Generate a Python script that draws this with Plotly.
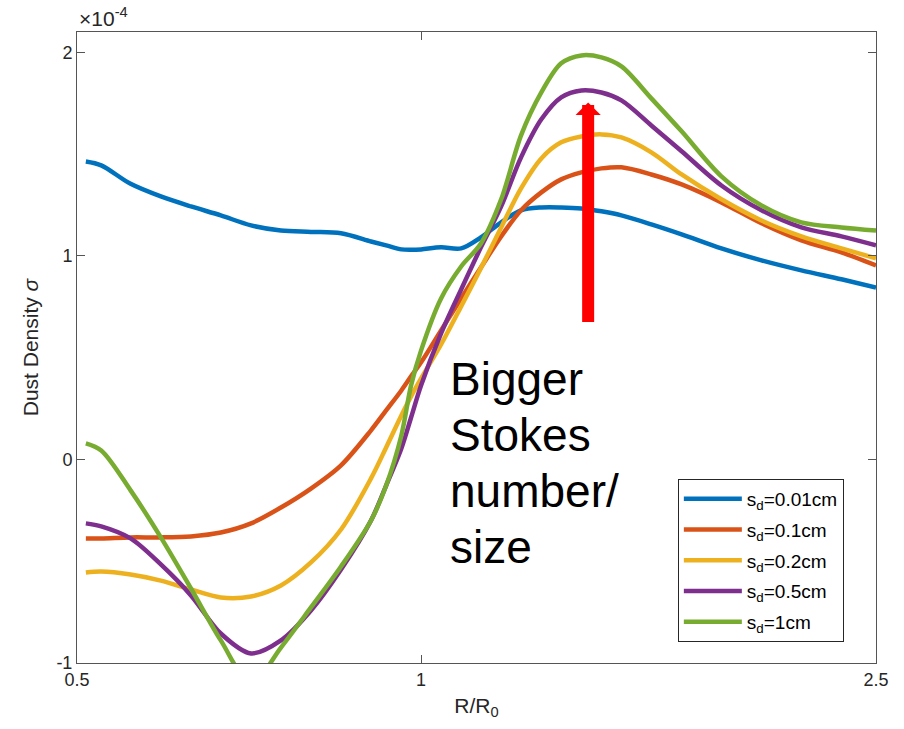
import numpy as np
import plotly.graph_objects as go

# Radial positions R/R0 (shared by every curve)
r_over_r0 = [0.509, 0.525, 0.557, 0.592, 0.629, 0.668, 0.710, 0.754, 0.801, 0.851,
             0.904, 0.932, 0.961, 0.980, 1.000, 1.041, 1.084, 1.128, 1.175, 1.223,
             1.274, 1.326, 1.381, 1.438, 1.497, 1.590, 1.690, 1.831, 1.985, 2.151,
             2.332, 2.500]

# Dust surface density, in units of 1e-4
sigma_001cm = [1.464, 1.445, 1.354, 1.292, 1.243, 1.199, 1.150, 1.125, 1.118, 1.111,
               1.071, 1.052, 1.032, 1.030, 1.032, 1.042, 1.037, 1.091, 1.165, 1.224,
               1.238, 1.238, 1.233, 1.219, 1.199, 1.155, 1.106, 1.037, 0.978, 0.929,
               0.885, 0.845]
sigma_01cm = [-0.388, -0.388, -0.383, -0.383, -0.378, -0.359, -0.314, -0.236, -0.143, -0.029,
              0.143, 0.241, 0.339, 0.408, 0.477, 0.634, 0.791, 0.943, 1.096, 1.224,
              1.312, 1.376, 1.410, 1.430, 1.435, 1.400, 1.351, 1.263, 1.160, 1.076,
              1.017, 0.953]
sigma_02cm = [-0.555, -0.550, -0.565, -0.595, -0.639, -0.678, -0.673, -0.619, -0.506, -0.344,
              -0.093, 0.059, 0.216, 0.310, 0.398, 0.565, 0.752, 0.940, 1.140, 1.332,
              1.479, 1.558, 1.587, 1.597, 1.582, 1.509, 1.400, 1.278, 1.174, 1.096,
              1.037, 0.988]
sigma_05cm = [-0.314, -0.329, -0.388, -0.516, -0.668, -0.855, -0.953, -0.889, -0.742, -0.541,
              -0.300, -0.128, 0.054, 0.206, 0.364, 0.619, 0.835, 1.042, 1.243, 1.484,
              1.671, 1.779, 1.813, 1.803, 1.764, 1.641, 1.514, 1.346, 1.224, 1.140,
              1.096, 1.052]
sigma_1cm = [0.079, 0.044, -0.152, -0.383, -0.634, -0.889, -1.100, -0.924, -0.727, -0.526,
             -0.300, -0.128, 0.118, 0.364, 0.536, 0.791, 0.948, 1.061, 1.278, 1.592,
             1.803, 1.946, 1.985, 1.975, 1.931, 1.774, 1.612, 1.391, 1.248, 1.165,
             1.140, 1.125]

series_names = ["s<sub>d</sub>=0.01cm", "s<sub>d</sub>=0.1cm", "s<sub>d</sub>=0.2cm",
                "s<sub>d</sub>=0.5cm", "s<sub>d</sub>=1cm"]
series_values = [sigma_001cm, sigma_01cm, sigma_02cm, sigma_05cm, sigma_1cm]
series_colors = ["#0072BD", "#D95319", "#EDB120", "#7E2F8E", "#77AC30"]

x_ticks = [0.5, 1, 2.5]
x_tick_labels = ["0.5", "1", "2.5"]
y_ticks = [-1, 0, 1, 2]
y_tick_labels = ["-1", "0", "1", "2"]

# Growth arrow (R/R0, sigma tail -> head)
arrow_r = 1.40
arrow_tail = 0.668
arrow_head = 1.754

axis_color = "#555555"
text_color = "#262626"
font_family = "Liberation Sans, Arial, Helvetica, sans-serif"

fig = go.Figure()
for name, vals, col in zip(series_names, series_values, series_colors):
    fig.add_trace(go.Scatter(
        x=r_over_r0, y=vals, mode="lines", name=name,
        line=dict(color=col, width=4.5, shape="spline", smoothing=0.9),
        legendgroup=name,
    ))

fig.update_layout(
    width=904, height=729,
    margin=dict(l=77, r=28, t=32, b=66, pad=0),
    plot_bgcolor="white", paper_bgcolor="white",
    font=dict(family=font_family, size=18, color=text_color),
    showlegend=True,
    legend=dict(
        x=0.752, y=0.2916, xanchor="left", yanchor="top",
        bgcolor="white", bordercolor=text_color, borderwidth=1,
        font=dict(size=19, color="black"),
        itemwidth=58, tracegroupgap=3,
    ),
)

fig.update_xaxes(
    type="log", range=[np.log10(0.5), np.log10(2.5)],
    tickvals=x_ticks, ticktext=x_tick_labels,
    ticks="inside", ticklen=8, tickwidth=1, tickcolor=axis_color,
    showline=True, linecolor=axis_color, linewidth=1, mirror="ticks",
    showgrid=False, zeroline=False,
    title=dict(text="R/R<sub>0</sub>", font=dict(size=21), standoff=9),
)
fig.update_yaxes(
    range=[-1, 2.1],
    tickvals=y_ticks, ticktext=y_tick_labels,
    ticks="inside", ticklen=8, tickwidth=1, tickcolor=axis_color,
    showline=True, linecolor=axis_color, linewidth=1, mirror="ticks",
    showgrid=False, zeroline=False,
    title=dict(text="Dust Density <i>σ</i>", font=dict(size=21), standoff=12),
)

# Exponent label for the y axis
fig.add_annotation(
    text="×10<sup>-4</sup>", xref="paper", yref="paper", x=0.0, y=1.0,
    xanchor="left", yanchor="bottom", showarrow=False,
    font=dict(size=21, color=text_color),
)

# Arrow marking increasing grain size
fig.add_annotation(
    x=np.log10(arrow_r), y=arrow_head, ax=np.log10(arrow_r), ay=arrow_tail,
    xref="x", yref="y", axref="x", ayref="y", text="",
    showarrow=True, arrowhead=1, arrowsize=0.35, arrowwidth=12, arrowcolor="#FF0000",
)

# Caption lines next to the arrow
caption_lines = ["Bigger", "Stokes", "number/", "size"]
caption_y = [0.450, 0.361, 0.2726, 0.1838]
for line, yy in zip(caption_lines, caption_y):
    fig.add_annotation(
        text=line, xref="paper", yref="paper", x=0.4643, y=yy,
        xanchor="left", yanchor="middle", showarrow=False,
        font=dict(size=46, color="black", family=font_family),
    )

fig.write_html("out.html")
